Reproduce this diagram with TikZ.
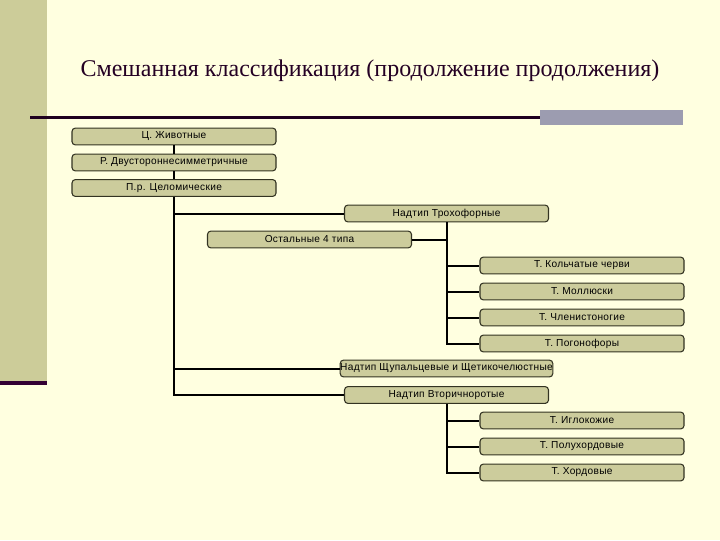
\documentclass[tikz,border=0pt]{standalone}
\usepackage{fontspec}
\setmainfont{Liberation Serif}
\setsansfont{Liberation Sans}
\usetikzlibrary{positioning, calc}
\definecolor{cpaper}{HTML}{FFFFE0}
\definecolor{cband}{HTML}{CCCC99}
\definecolor{cplum}{HTML}{330033}
\definecolor{cslate}{HTML}{9C9CB0}
\definecolor{cbox}{HTML}{CCCC9C}
\definecolor{cedge}{HTML}{333322}
\tikzset{
  every picture/.style={font=\sffamily},
  taxon/.style={draw=cedge, fill=cbox, rounded corners=2.5pt, line width=0.8pt, inner sep=0pt,
    minimum width=153pt, minimum height=12.6pt,
    font=\sffamily\fontsize{7.6}{8}\selectfont\addfontfeatures{LetterSpace=3}},
  link/.style={draw=black, line width=1.5pt},
  headline/.style={font=\rmfamily\fontsize{18}{22}\selectfont, text=cplum!70!black},
}

\begin{document}
\begin{tikzpicture}[x=0.75pt, y=-0.75pt]
  \useasboundingbox (0,0) rectangle (720,540);
  \fill[cpaper] (0,0) rectangle (720,540);
  \fill[cband] (0,0) rectangle (47,382);
  \fill[cplum] (0,381) rectangle (47,385);
  \node[headline] (title) at (370,71) {Смешанная классификация (продолжение продолжения)};
  \fill[cslate] (540,110) rectangle (683,125);
  \draw[draw=cplum!60!black, line width=1.6pt] (30,117.5) -- (540,117.5);

  \node[taxon] (kingdom) at (174,136.5) {Ц. Животные};
  \node[taxon] (bilat) at (174,162.5) {Р. Двустороннесимметричные};
  \node[taxon] (coelom) at (174,188) {П.р. Целомические};
  \node[taxon] (troch) at (446.5,213.5) {Надтип Трохофорные};
  \node[taxon] (rest) at (309.5,239.5) {Остальные 4 типа};
  \node[taxon] (annel) at (582,265.5) {Т. Кольчатые черви};
  \node[taxon] (moll) at (582,291.5) {Т. Моллюски};
  \node[taxon] (arthr) at (582,317.5) {Т. Членистоногие};
  \node[taxon] (pogon) at (582,343.5) {Т. Погонофоры};
  \node[taxon] (tent) at (446.5,368.5) {Надтип Щупальцевые и Щетикочелюстные};
  \node[taxon] (deut) at (446.5,395) {Надтип Вторичноротые};
  \node[taxon] (echin) at (582,420.5) {Т. Иглокожие};
  \node[taxon] (hemi) at (582,446.5) {Т. Полухордовые};
  \node[taxon] (chord) at (582,472.5) {Т. Хордовые};

  \draw[link] (kingdom) -- (bilat);
  \draw[link] (bilat) -- (coelom);
  \draw[link] (coelom.south) |- (troch.west);
  \draw[link] (coelom.south) |- (tent.west);
  \draw[link] (coelom.south) |- (deut.west);
  \draw[link] (rest.east) -- (rest.east -| troch.south);
  \foreach \t in {annel, moll, arthr, pogon}
    \draw[link] (troch.south) |- (\t.west);
  \foreach \t in {echin, hemi, chord}
    \draw[link] (deut.south) |- (\t.west);
\end{tikzpicture}
\end{document}
